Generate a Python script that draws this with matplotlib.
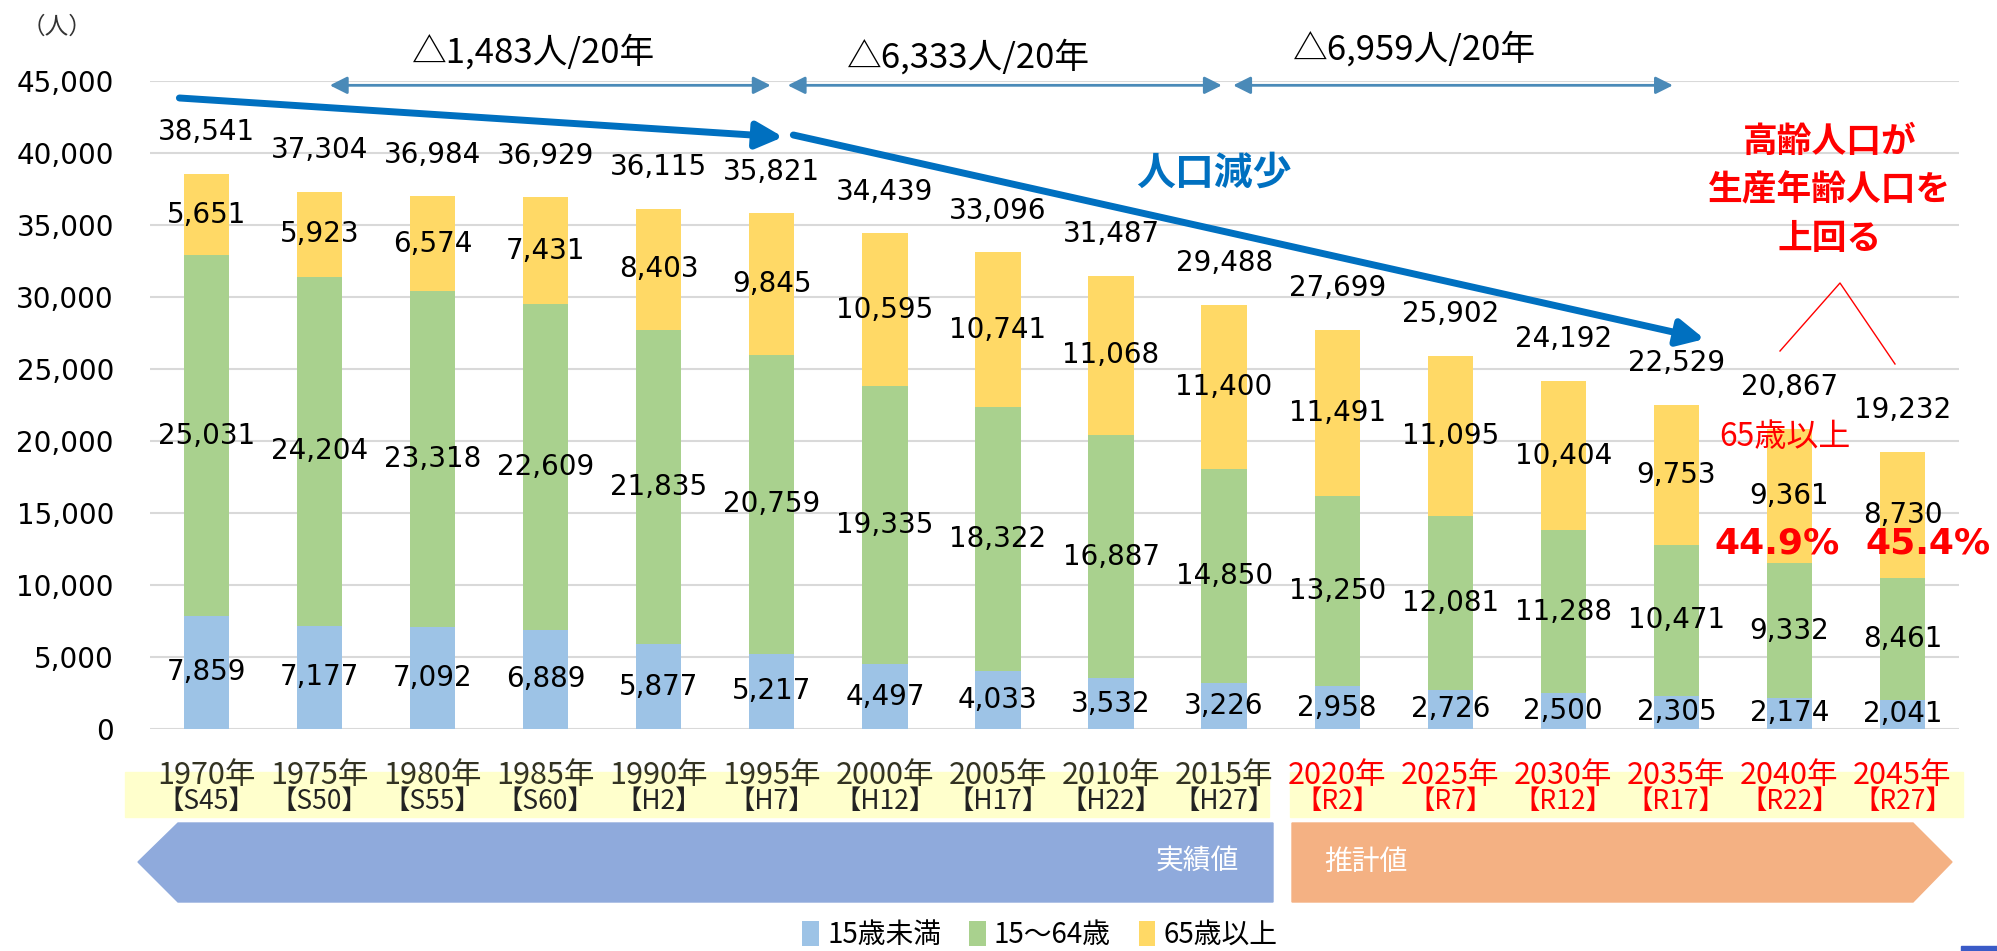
import matplotlib.pyplot as plt
import matplotlib.transforms as mtransforms
from matplotlib.patches import Polygon, Rectangle
from matplotlib.lines import Line2D
import numpy as np

# データ
years = ["1970年", "1975年", "1980年", "1985年", "1990年", "1995年", "2000年", "2005年",
         "2010年", "2015年", "2020年", "2025年", "2030年", "2035年", "2040年", "2045年"]
eras = ["【S45】", "【S50】", "【S55】", "【S60】", "【H2】", "【H7】", "【H12】", "【H17】",
        "【H22】", "【H27】", "【R2】", "【R7】", "【R12】", "【R17】", "【R22】", "【R27】"]
under15 = [7859, 7177, 7092, 6889, 5877, 5217, 4497, 4033, 3532, 3226, 2958, 2726, 2500, 2305, 2174, 2041]
age15_64 = [25031, 24204, 23318, 22609, 21835, 20759, 19335, 18322, 16887, 14850, 13250, 12081, 11288, 10471, 9332, 8461]
over65 = [5651, 5923, 6574, 7431, 8403, 9845, 10595, 10741, 11068, 11400, 11491, 11095, 10404, 9753, 9361, 8730]
totals = [38541, 37304, 36984, 36929, 36115, 35821, 34439, 33096, 31487, 29488, 27699, 25902, 24192, 22529, 20867, 19232]
n_actual = 10  # 2015年までが実績値
changes = ["△1,483人/20年", "△6,333人/20年", "△6,959人/20年"]

W, H = 1997, 951
def px(x, y):
    # 画像ピクセル -> figure 座標
    return x / W, 1 - y / H

plt.rcParams['font.family'] = ['DejaVu Sans', 'Noto Sans CJK JP']
jp = ['Noto Sans CJK JP', 'DejaVu Sans']

fig = plt.figure(figsize=(W / 100, H / 100), dpi=100)
ax = fig.add_axes([150 / W, 1 - 729 / H, (1959 - 150) / W, (729 - 81) / H])
ax.patch.set_visible(False)

x = np.arange(len(years))
c_young, c_work, c_old = '#9DC3E6', '#A9D18E', '#FFD966'
bw = 0.4
mid = np.add(under15, age15_64)
top = mid + np.array(over65)
b1 = ax.bar(x, under15, bw, color=c_young, label='15歳未満', zorder=2)
b2 = ax.bar(x, age15_64, bw, bottom=under15, color=c_work, label='15～64歳', zorder=2)
b3 = ax.bar(x, over65, bw, bottom=mid, color=c_old, label='65歳以上', zorder=2)

ax.set_xlim(-0.5, len(years) - 0.5)
ax.set_ylim(0, 45000)
ticks = list(range(0, 45001, 5000))
ax.set_yticks(ticks)
ax.set_yticklabels([f"{t:,}" for t in ticks], fontsize=20)
ax.tick_params(axis='y', length=0, pad=26)
ax.set_xticks([])
ax.grid(axis='y', color='#D9D9D9', lw=1.5, zorder=0)
for s in ax.spines.values():
    s.set_visible(False)

# 数値ラベル
fs = 20
for i in x:
    ax.text(i, under15[i] / 2, f"{under15[i]:,}", ha='center', va='center', fontsize=fs, zorder=3)
    ax.text(i, under15[i] + age15_64[i] / 2, f"{age15_64[i]:,}", ha='center', va='center', fontsize=fs, zorder=3)
    ax.text(i, mid[i] + over65[i] / 2, f"{over65[i]:,}", ha='center', va='center', fontsize=fs, zorder=3)
    ax.annotate(f"{totals[i]:,}", (i, top[i]), xytext=(0, 30), textcoords='offset points',
                ha='center', va='center', fontsize=fs, annotation_clip=False)

fig.text(*px(57, 27), "（人）", fontsize=17, family=jp, ha='center', va='center', color='#333333')

# 年ラベルと背景
band_y0, band_y1 = 772, 817
for xa, xb in [(125, 1269), (1290, 1963)]:
    x0, y0 = px(xa, band_y1)
    fig.patches.append(Rectangle((x0, y0), (xb - xa) / W, (band_y1 - band_y0) / H,
                                 transform=fig.transFigure, color='#FFFFCC', zorder=-1))
trans = mtransforms.blended_transform_factory(ax.transData, fig.transFigure)
for i in x:
    col = '#333322' if i < n_actual else '#FF0000'
    ax.text(i, px(0, 775)[1], years[i], transform=trans, ha='center', va='center',
            fontsize=22, family=jp, color=col, clip_on=False, zorder=5)
    ax.text(i, px(0, 801)[1], eras[i], transform=trans, ha='center', va='center',
            fontsize=19, family=jp, color=col if i >= n_actual else '#222222', clip_on=False, zorder=5)

# 実績値 / 推計値 の矢印
blue_pts = [px(138, 862), px(178, 823), px(1273, 823), px(1273, 902), px(178, 902)]
orange_pts = [px(1292, 823), px(1913, 823), px(1952, 862), px(1913, 902), px(1292, 902)]
fig.patches.append(Polygon(blue_pts, closed=True, transform=fig.transFigure, color='#8FAADC', zorder=-1))
fig.patches.append(Polygon(orange_pts, closed=True, transform=fig.transFigure, color='#F4B183', zorder=-1))
fig.text(*px(1197, 862), "実績値", color='white', fontsize=20, family=jp, ha='center', va='center')
fig.text(*px(1366, 862), "推計値", color='white', fontsize=20, family=jp, ha='center', va='center')

# 20年ごとの減少
arrow_spans = [(1.09, 4.99), (5.14, 8.98), (9.08, 12.97)]
label_pos = [(2.89, 46950), (6.74, 46600), (10.68, 47200)]
for (xa, xb), (lx, ly), txt in zip(arrow_spans, label_pos, changes):
    ax.annotate("", xy=(xb, 44700), xytext=(xa, 44700),
                arrowprops=dict(arrowstyle='<|-|>', color='#4A8AB8', lw=2, mutation_scale=26,
                                shrinkA=0, shrinkB=0), annotation_clip=False)
    ax.text(lx, ly, txt, ha='center', va='center', fontsize=25, family=jp, clip_on=False)

# 人口減少の矢印
for (xa, ya), (xb, yb) in [((-0.24, 43820), (5.10, 41110)), ((5.19, 41250), (13.25, 27080))]:
    ax.annotate("", xy=(xb, yb), xytext=(xa, ya),
                arrowprops=dict(arrowstyle='-|>', color='#0070C0', lw=5, mutation_scale=40,
                                shrinkA=0, shrinkB=0), annotation_clip=False)
ax.text(8.91, 38600, "人口減少", color='#0070C0', fontsize=28, fontweight='bold', family=jp,
        ha='center', va='center')

# 高齢人口の注記
fig.text(*px(1830, 190), "高齢人口が\n生産年齢人口を\n上回る", color='#FF0000', fontsize=25,
         fontweight='bold', family=jp, ha='center', va='center', linespacing=1.5)
fig.lines.append(Line2D([1780 / W, 1840 / W, 1895 / W], [px(0, 351)[1], px(0, 283)[1], px(0, 364)[1]],
                        transform=fig.transFigure, color='#FF0000', lw=1))
ax.text(13.96, 20280, "65歳以上", color='#FF0000', fontsize=23, family=jp, ha='center', va='center')
for i, xpos in [(14, 13.89), (15, 15.23)]:
    ax.text(xpos, 12900, f"{over65[i] / totals[i] * 100:.1f}%", color='#FF0000', fontsize=26,
            fontweight='bold', ha='center', va='center', clip_on=False, zorder=4)

# 凡例
fig.legend(handles=[b1, b2, b3], loc='center', bbox_to_anchor=px(1040, 935), ncol=3,
           frameon=False, handlelength=0.6, handleheight=1.0, handletextpad=0.3,
           columnspacing=1.0, borderpad=0.1, prop={'family': jp, 'size': 20})

fig.patches.append(Rectangle(px(1961, 951), 36 / W, 5 / H, transform=fig.transFigure, color='#3A5BC7'))

fig.savefig("out.png", dpi=100)
